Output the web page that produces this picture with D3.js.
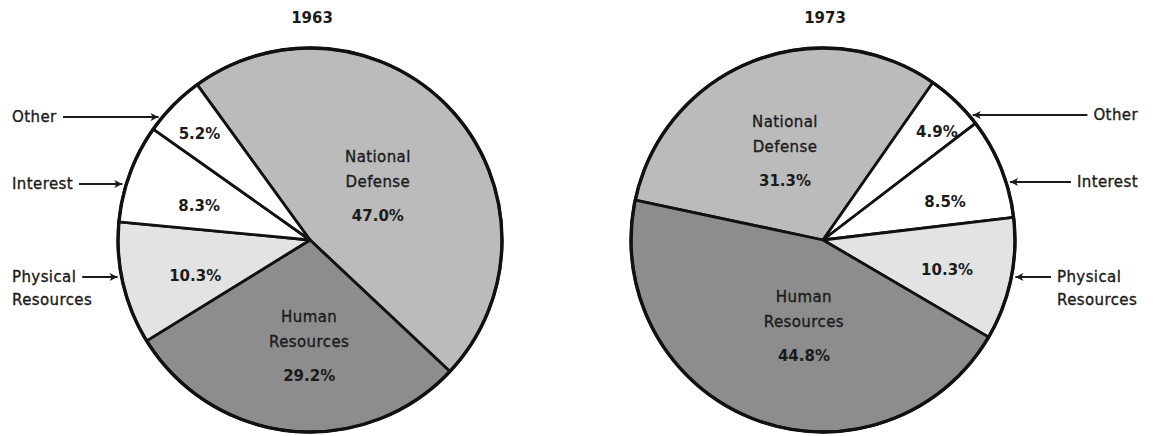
<!DOCTYPE html>
<html>
<head>
<meta charset="utf-8">
<script src="https://cdn.jsdelivr.net/npm/d3@7"></script>
<style>
  body { margin: 0; background: #ffffff; }
  svg { display: block; }
</style>
</head>
<body>
<svg id="chart" width="1153" height="436"></svg>
<script>
// ---- Data: federal outlays by function, percent of total ----
const years = ["1963", "1973"];
const categories = ["National Defense", "Human Resources", "Physical Resources", "Interest", "Other"];
const shares1963 = [47.0, 29.2, 10.3, 8.3, 5.2];
const shares1973 = [31.3, 44.8, 10.3, 8.5, 4.9];

// Clockwise order of the slices in each pie
const order1963 = ["National Defense", "Human Resources", "Physical Resources", "Interest", "Other"];
const order1973 = ["National Defense", "Other", "Interest", "Physical Resources", "Human Resources"];

// ---- Presentation ----
const fillOf = {
  "National Defense": "#bbbbbb",
  "Human Resources": "#8d8d8d",
  "Physical Resources": "#e3e3e3",
  "Interest": "#ffffff",
  "Other": "#ffffff"
};
const labelLines = {
  "National Defense": ["National", "Defense"],
  "Human Resources": ["Human", "Resources"],
  "Physical Resources": ["Physical", "Resources"],
  "Interest": ["Interest"],
  "Other": ["Other"]
};
// Slices whose name is written inside the pie
const namedInside = new Set(["National Defense", "Human Resources"]);

// Label placement inside each slice: angle nudge (deg) from slice middle, radius fraction
const placement1963 = {
  "National Defense":   { nudge: 3.2,  frac: 0.45 },
  "Human Resources":    { nudge: -5.3, frac: 0.555 },
  "Physical Resources": { nudge: -4.3, frac: 0.627 },
  "Interest":           { nudge: -3.3, frac: 0.604 },
  "Other":              { nudge: -0.9, frac: 0.797 }
};
const placement1973 = {
  "National Defense":   { nudge: -1.6, frac: 0.504 },
  "Other":              { nudge: 2.6,  frac: 0.82 },
  "Interest":           { nudge: 4.8,  frac: 0.666 },
  "Physical Resources": { nudge: 1.8,  frac: 0.665 },
  "Human Resources":    { nudge: -8.7, frac: 0.46 }
};

// Callout names with arrows outside the pie
const callouts1963 = [
  { cat: "Other",              y: 117, x: 12,   anchor: "start" },
  { cat: "Interest",           y: 184, x: 12,   anchor: "start" },
  { cat: "Physical Resources", y: 277, x: 12,   anchor: "start" }
];
const callouts1973 = [
  { cat: "Other",              y: 115, x: 1138, anchor: "end" },
  { cat: "Interest",           y: 182, x: 1138, anchor: "end" },
  { cat: "Physical Resources", y: 277, x: 1057, anchor: "start" }
];

const pies = [
  { year: years[0], shares: shares1963, order: order1963, cx: 310, cy: 240, r: 192, start: -36,
    place: placement1963, callouts: callouts1963, side: -1 },
  { year: years[1], shares: shares1973, order: order1973, cx: 823, cy: 240, r: 192, start: -78,
    place: placement1973, callouts: callouts1973, side: 1 }
];

const FONT = "'DejaVu Sans', 'Liberation Sans', sans-serif";
const INK = "#1b1b1b";
const rad = Math.PI / 180;
const fmt = v => d3.format(".1f")(v) + "%";

const svg = d3.select("#chart");

// Filled arrowhead
svg.append("defs").append("marker")
  .attr("id", "head")
  .attr("viewBox", "0 0 10 10")
  .attr("refX", 10).attr("refY", 5)
  .attr("markerUnits", "userSpaceOnUse")
  .attr("markerWidth", 11).attr("markerHeight", 8)
  .attr("orient", "auto")
  .append("path")
  .attr("d", "M0,0 L10,5 L0,10 L2.5,5 Z")
  .attr("fill", INK);

// Medium-weight name text
function nameText(sel) {
  return sel
    .attr("font-family", FONT).attr("font-size", 15).attr("letter-spacing", 0.4)
    .attr("fill", INK)
    .attr("stroke", INK).attr("stroke-width", 0.35);
}

pies.forEach(p => {
  const data = p.order.map(cat => ({ cat, value: p.shares[categories.indexOf(cat)] }));

  const pie = d3.pie()
    .sort(null)
    .value(d => d.value)
    .startAngle(p.start * rad)
    .endAngle(p.start * rad + 2 * Math.PI);

  const arc = d3.arc().innerRadius(0).outerRadius(p.r);
  const arcs = pie(data);

  const g = svg.append("g").attr("transform", `translate(${p.cx},${p.cy})`);

  // Title
  svg.append("text")
    .attr("x", p.cx + 2).attr("y", 18).attr("dy", "0.35em")
    .attr("text-anchor", "middle")
    .attr("font-family", FONT).attr("font-weight", "bold").attr("font-size", 15)
    .attr("fill", INK)
    .text(p.year);

  // Slices
  g.selectAll("path.slice")
    .data(arcs)
    .join("path")
    .attr("class", "slice")
    .attr("d", arc)
    .attr("fill", d => fillOf[d.data.cat])
    .attr("stroke", "#111")
    .attr("stroke-width", 2.8)
    .attr("stroke-linejoin", "round");

  // Outer rim
  g.append("circle")
    .attr("r", p.r)
    .attr("fill", "none")
    .attr("stroke", "#111")
    .attr("stroke-width", 3.4);

  // Labels inside slices
  arcs.forEach(a => {
    const pl = p.place[a.data.cat];
    const ang = (a.startAngle + a.endAngle) / 2 + pl.nudge * rad;
    const x = pl.frac * p.r * Math.sin(ang);
    const y = -pl.frac * p.r * Math.cos(ang);
    const pct = fmt(a.data.value);
    if (namedInside.has(a.data.cat)) {
      labelLines[a.data.cat].forEach((line, i) => {
        g.append("text")
          .attr("x", x).attr("y", y - 29.5 + i * 25).attr("dy", "0.35em")
          .attr("text-anchor", "middle")
          .call(nameText)
          .text(line);
      });
      g.append("text")
        .attr("x", x).attr("y", y + 29.5).attr("dy", "0.35em")
        .attr("text-anchor", "middle")
        .attr("font-family", FONT).attr("font-weight", "bold").attr("font-size", 15)
        .attr("fill", INK)
        .text(pct);
    } else {
      g.append("text")
        .attr("x", x).attr("y", y).attr("dy", "0.35em")
        .attr("text-anchor", "middle")
        .attr("font-family", FONT).attr("font-weight", "bold").attr("font-size", 15)
        .attr("fill", INK)
        .text(pct);
    }
  });

  // Callouts with arrows
  p.callouts.forEach(c => {
    const lines = labelLines[c.cat];
    let firstNode = null;
    lines.forEach((line, i) => {
      const t = svg.append("text")
        .attr("x", c.x).attr("y", c.y + i * 23).attr("dy", "0.35em")
        .attr("text-anchor", c.anchor)
        .call(nameText)
        .text(line);
      if (i === 0) firstNode = t.node();
    });
    const box = firstNode.getBBox();
    const dy = c.y - p.cy;
    const rimX = p.cx + p.side * Math.sqrt(p.r * p.r - dy * dy);
    const tipX = rimX + p.side * 4;
    const tailX = p.side < 0 ? box.x + box.width + 6 : box.x - 6;
    svg.append("line")
      .attr("x1", tailX).attr("y1", c.y)
      .attr("x2", tipX).attr("y2", c.y)
      .attr("stroke", INK)
      .attr("stroke-width", 2)
      .attr("marker-end", "url(#head)");
  });
});
</script>
</body>
</html>
